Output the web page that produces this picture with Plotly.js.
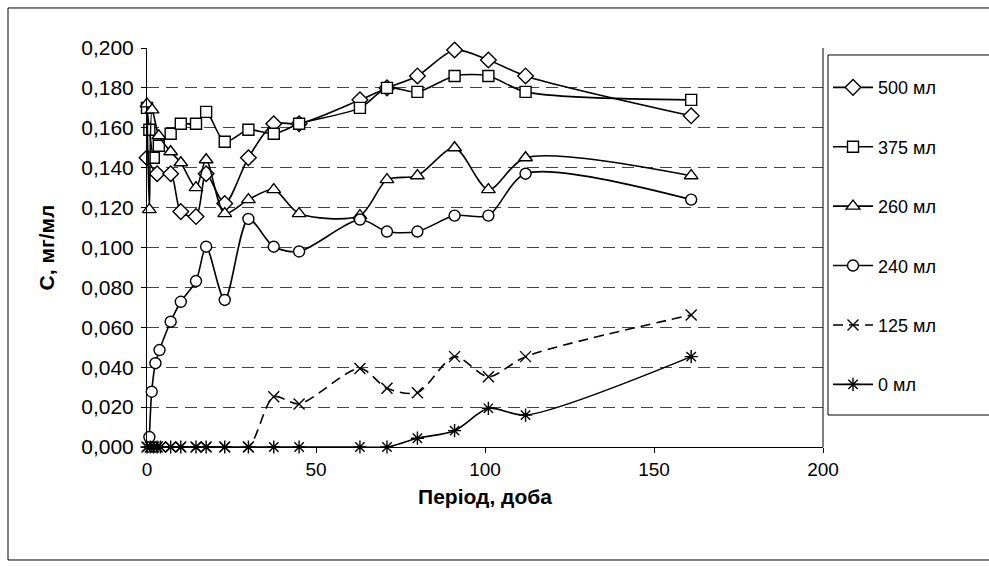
<!DOCTYPE html>
<html>
<head>
<meta charset="utf-8">
<script src="https://cdn.plot.ly/plotly-3.0.1.min.js"></script>
<style>html,body{margin:0;padding:0;background:#fff;}#chart{width:989px;height:567px;}</style>
</head>
<body>
<div id="chart"></div>
<script>
// Series names
const seriesNames = ["500 мл", "375 мл", "260 мл", "240 мл", "125 мл", "0 мл"];

// 500 ml
const x500 = [0, 3, 7, 10, 14.5, 17.5, 23, 30, 37.5, 45, 63, 71, 80, 91, 101, 112, 161];
const y500 = [0.145, 0.137, 0.137, 0.118, 0.1155, 0.137, 0.122, 0.145, 0.162, 0.162, 0.174, 0.180, 0.186, 0.199, 0.194, 0.186, 0.166];
// 375 ml
const x375 = [0, 0.7, 2, 3.5, 7, 10, 14.5, 17.5, 23, 30, 37.5, 45, 63, 71, 80, 91, 101, 112, 161];
const y375 = [0.170, 0.159, 0.145, 0.151, 0.157, 0.162, 0.162, 0.168, 0.153, 0.159, 0.157, 0.162, 0.170, 0.180, 0.178, 0.186, 0.186, 0.178, 0.174];
// 260 ml
const x260 = [0, 0.7, 1.5, 3.5, 7, 10, 14.5, 17.5, 23, 30, 37.5, 45, 63, 71, 80, 91, 101, 112, 161];
const y260 = [0.172, 0.119, 0.169, 0.156, 0.148, 0.1425, 0.130, 0.144, 0.117, 0.124, 0.129, 0.117, 0.116, 0.134, 0.136, 0.150, 0.129, 0.145, 0.136];
// 240 ml
const x240 = [0.7, 1.4, 2.5, 3.7, 7, 10, 14.5, 17.5, 23, 30, 37.5, 45, 63, 71, 80, 91, 101, 112, 161];
const y240 = [0.005, 0.0277, 0.042, 0.0486, 0.0628, 0.0728, 0.0832, 0.1004, 0.0737, 0.1143, 0.1004, 0.098, 0.114, 0.108, 0.108, 0.116, 0.116, 0.137, 0.124];
// 125 ml
const x125 = [0, 1, 2, 3, 4, 7, 10, 14.5, 17.5, 23, 30, 37.5, 45, 63, 71, 80, 91, 101, 112, 161];
const y125 = [0, 0, 0, 0, 0, 0, 0, 0, 0, 0, 0, 0.0252, 0.0216, 0.0394, 0.0294, 0.0272, 0.0453, 0.0352, 0.0453, 0.0662];
// 0 ml
const x0 = [0, 1, 2, 3, 4, 7, 10, 14.5, 17.5, 23, 30, 37.5, 45, 63, 71, 80, 91, 101, 112, 161];
const y0 = [0, 0, 0, 0, 0, 0, 0, 0, 0, 0, 0, 0, 0, 0, 0, 0.0044, 0.0082, 0.0194, 0.016, 0.0453];

// Tick values
const yTicks = [0, 0.02, 0.04, 0.06, 0.08, 0.10, 0.12, 0.14, 0.16, 0.18, 0.20];
const xTicks = [0, 50, 100, 150, 200];

const FONT = "'Liberation Sans', Arial, sans-serif";

function mk(name, xs, ys, symbol, size, opts) {
  opts = opts || {};
  return {
    type: "scatter", mode: "lines+markers", name: name, x: xs, y: ys,
    legendgroup: name,
    line: {color: "#000", width: 1.6, shape: "spline", smoothing: 0.8, dash: opts.dash || "solid"},
    marker: {symbol: symbol, size: size, color: opts.fill || "#fff",
             line: {color: "#000", width: 1.4}},
    cliponaxis: false
  };
}

const data = [
  mk(seriesNames[0], x500, y500, "diamond", 12),
  mk(seriesNames[1], x375, y375, "square", 11),
  mk(seriesNames[2], x260, y260, "triangle-up", 12),
  mk(seriesNames[3], x240, y240, "circle", 11),
  mk(seriesNames[4], x125, y125, "x-thin-open", 11, {dash: "10px,6px", fill: "#000"}),
  mk(seriesNames[5], x0, y0, "asterisk-open", 11, {fill: "#000"})
];

const layout = {
  width: 989, height: 567,
  margin: {l: 147, r: 166, t: 48, b: 120, pad: 0},
  paper_bgcolor: "#fff", plot_bgcolor: "#fff",
  separators: ", ",
  font: {family: FONT, size: 18, color: "#000"},
  showlegend: true,
  legend: {
    x: 1.0074, xanchor: "left", y: 0.947, yanchor: "top",
    borderwidth: 0, bgcolor: "rgba(0,0,0,0)",
    font: {family: FONT, size: 18, color: "#000"},
    traceorder: "grouped", tracegroupgap: 33,
    itemwidth: 40
  },
  xaxis: {
    range: [0, 200], tickvals: xTicks, ticktext: xTicks.map(String),
    ticks: "outside", ticklen: 5, tickcolor: "#000",
    showline: true, linecolor: "#000", linewidth: 1,
    showgrid: false, zeroline: false,
    tickfont: {family: FONT, size: 19},
    title: {text: "<b>Період, доба</b>", font: {family: FONT, size: 21}, standoff: 10}
  },
  yaxis: {
    range: [0, 0.2], tickvals: yTicks, tickformat: ".3f",
    ticks: "outside", ticklen: 5, tickcolor: "#000", ticklabelstandoff: 3,
    showline: true, linecolor: "#000", linewidth: 1,
    showgrid: true, gridcolor: "#444", griddash: "12px,7px", gridwidth: 1,
    zeroline: false,
    tickfont: {family: FONT, size: 21},
    title: {text: "<b>C, мг/мл</b>", font: {family: FONT, size: 21}, standoff: 20}
  },
  shapes: [
    {type: "line", xref: "paper", yref: "paper", x0: 1, x1: 1, y0: 0, y1: 1,
     line: {color: "#000", width: 1}},
    {type: "rect", xref: "paper", yref: "paper",
     x0: 1.0074, x1: 1.2544, y0: 0.0802, y1: 0.9825,
     line: {color: "#000", width: 1}},
    {type: "rect", xref: "paper", yref: "paper",
     x0: -0.2056, x1: 1.27, y0: -0.2832, y1: 1.1003,
     line: {color: "#000", width: 1}}
  ]
};

Plotly.newPlot("chart", data, layout, {displayModeBar: false, staticPlot: true});
</script>
</body>
</html>
